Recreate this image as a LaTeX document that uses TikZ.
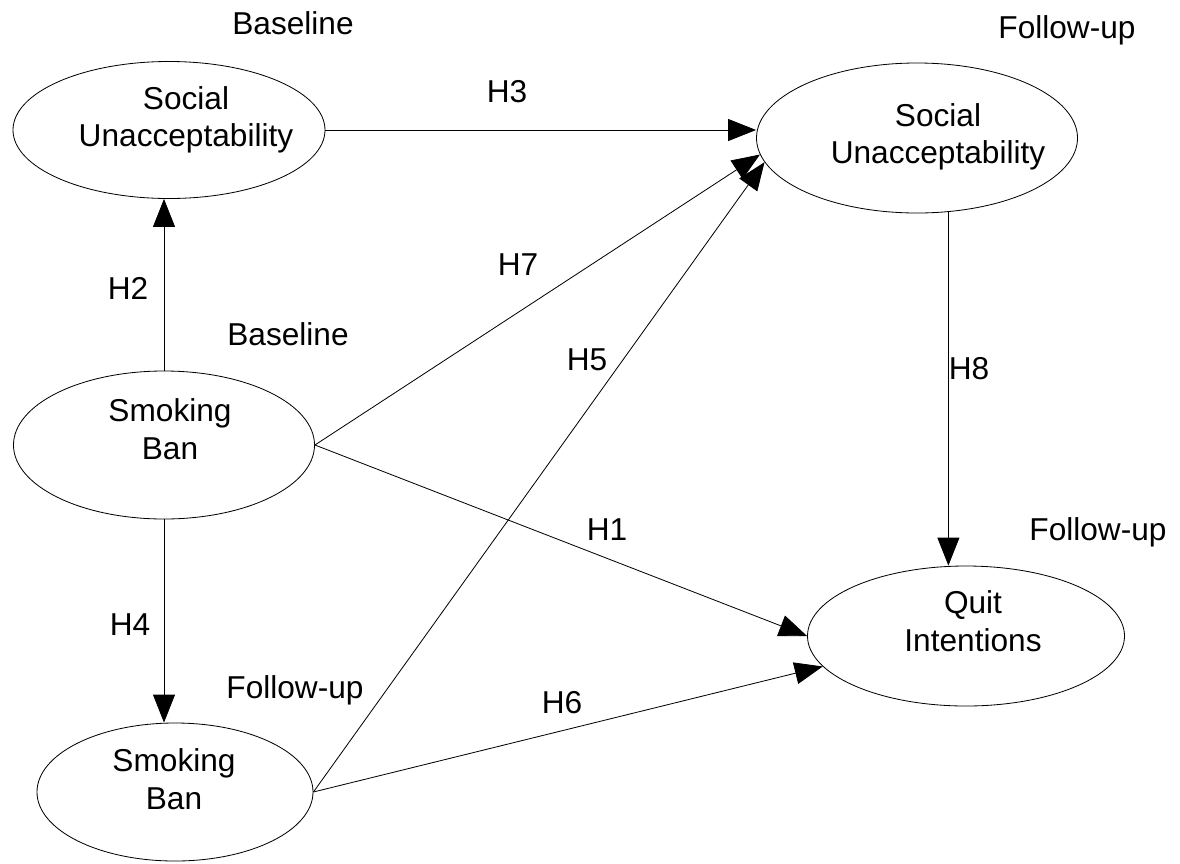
\documentclass[tikz,border=0pt]{standalone}
\usepackage{fontspec}
\setmainfont{Liberation Sans}
\usetikzlibrary{shapes.geometric,arrows.meta,calc}

\begin{document}
\begin{tikzpicture}[x=0.03cm, y=-0.03cm,
    construct/.style={ellipse, draw, line width=0.7pt, inner sep=0pt},
    ctext/.style={font=\fontsize{27}{32}\selectfont, align=center, inner sep=0pt},
    lbl/.style={font=\fontsize{27}{32}\selectfont, inner sep=0pt},
    hyp/.style={-{Triangle[length=0.84cm, width=0.66cm]}, line width=0.7pt}]
    \useasboundingbox (0,0) rectangle (1180,863);

    % Constructs
    \node[construct, minimum width=9.36cm, minimum height=4.11cm] (su1) at (169,130) {};
    \node[construct, minimum width=9.63cm, minimum height=4.5cm] (su2) at (917,138) {};
    \node[construct, minimum width=9.03cm, minimum height=4.44cm] (sb1) at (164,445) {};
    \node[construct, minimum width=8.28cm, minimum height=4.14cm] (sb2) at (175,792) {};
    \node[construct, minimum width=9.51cm, minimum height=4.2cm] (quit) at (966,636) {};

    % Construct contents
    \node[ctext] at (186,120) {Social\\Unacceptability};
    \node[ctext] at (938,137) {Social\\Unacceptability};
    \node[ctext] at (170,429) {Smoking\\Ban};
    \node[ctext] at (174,779) {Smoking\\Ban};
    \node[ctext] at (973,621) {Quit\\Intentions};

    % Wave labels
    \node[lbl] (base1) at (293,23) {Baseline};
    \node[lbl] (fu1) at (1067,30) {Follow-up};
    \node[lbl] (base2) at (288,334) {Baseline};
    \node[lbl] (fu2) at (1098,532) {Follow-up};
    \node[lbl] (fu3) at (295,690) {Follow-up};

    % Hypotheses
    \draw[hyp] (su1.east) -- (su1.east -| su2.west);
    \draw[hyp] (sb1.north) -- (sb1.north |- su1.south);
    \draw[hyp] (sb1.south) -- (sb1.south |- sb2.north);
    \draw[hyp] (sb1.east) -- (su2.186);
    \draw[hyp] (sb2.east) -- (su2.189);
    \draw[hyp] (sb1.east) -- (quit.west);
    \draw[hyp] (sb2.east) -- (quit.192);
    \draw[hyp] (su2.-67) -- (su2.-67 |- quit.north);

    % Hypothesis labels
    \node[lbl] (h1) at (607,530) {H1};
    \node[lbl] (h2) at (128,288) {H2};
    \node[lbl] (h3) at (507,92) {H3};
    \node[lbl] (h4) at (130,625) {H4};
    \node[lbl] (h5) at (587,360) {H5};
    \node[lbl] (h6) at (562,703) {H6};
    \node[lbl] (h7) at (518,265) {H7};
    \node[lbl] (h8) at (969,369) {H8};
\end{tikzpicture}
\end{document}
